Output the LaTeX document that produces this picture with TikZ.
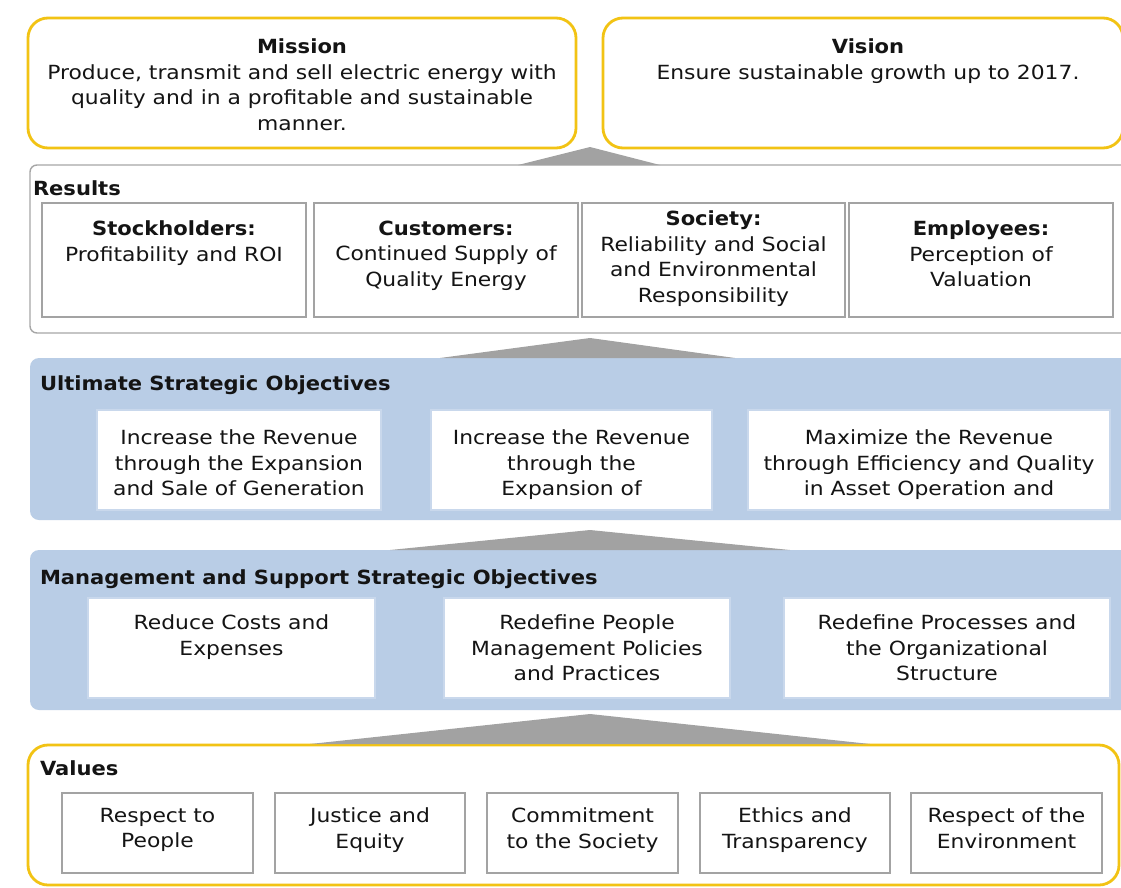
\documentclass[tikz,border=0pt]{standalone}
\usepackage{fontspec}
\setmainfont[FakeStretch=1.12, BoldFeatures={FakeStretch=1.08}]{DejaVu Sans}
\usetikzlibrary{positioning}

\definecolor{gold}{HTML}{F2C314}
\definecolor{bandblue}{HTML}{B9CDE6}
\definecolor{bandedge}{HTML}{C9D8EC}
\definecolor{framegray}{HTML}{A6A6A6}
\definecolor{boxgray}{HTML}{A3A3A3}
\definecolor{wedgegray}{HTML}{A2A2A2}
\definecolor{ink}{HTML}{141414}

\begin{document}
\begin{tikzpicture}[x=1pt,y=1pt,
  every node/.style={inner sep=0pt, outer sep=0pt},
  txt/.style={font=\fontsize{19.5}{25.5}\selectfont, align=center, text=ink},
  head/.style={font=\fontsize{19.5}{25.5}\selectfont\bfseries, text=ink, anchor=north west},
  goldbox/.style={draw=gold, line width=2.8pt, rounded corners=20pt, fill=white, anchor=north west},
  graybox/.style={draw=framegray, line width=1.4pt, rounded corners=7pt, fill=white, anchor=north west},
  band/.style={fill=bandblue, rounded corners=9pt, anchor=north west},
  cell/.style={draw=boxgray, line width=1.1pt, fill=white, anchor=north west},
  bandcell/.style={draw=bandedge, line width=1.2pt, fill=white, anchor=north west},
  wedge/.style={fill=wedgegray}
]
\useasboundingbox (0,0) rectangle (1121,-888);
\clip (0,0) rectangle (1121,-888);
\fill[white] (0,0) rectangle (1121,-888);

% ---- mission and vision ----
\node[goldbox, minimum width=548pt, minimum height=130pt] (mission) at (28,-18) {};
\node[goldbox, minimum width=520pt, minimum height=130pt] (vision) at (603,-18) {};

% ---- results ----
\node[graybox, minimum width=1110pt, minimum height=168pt] (results) at (30,-165) {};
\node[cell, minimum width=264pt, minimum height=114pt] (stock) at (42,-203) {};
\node[cell, minimum width=264pt, minimum height=114pt] (cust)  at (314,-203) {};
\node[cell, minimum width=263pt, minimum height=114pt] (soc)   at (582,-203) {};
\node[cell, minimum width=264pt, minimum height=114pt] (empl)  at (849,-203) {};

% ---- ultimate strategic objectives ----
\node[band, minimum width=1110pt, minimum height=162pt] (ultimate) at (30,-358) {};
\node[bandcell, minimum width=284pt, minimum height=100pt] (u1) at (97,-410) {};
\node[bandcell, minimum width=281pt, minimum height=100pt] (u2) at (431,-410) {};
\node[bandcell, minimum width=362pt, minimum height=100pt] (u3) at (748,-410) {};

% ---- management and support strategic objectives ----
\node[band, minimum width=1110pt, minimum height=160pt] (support) at (30,-550) {};
\node[bandcell, minimum width=287pt, minimum height=100pt] (m1) at (88,-598) {};
\node[bandcell, minimum width=286pt, minimum height=100pt] (m2) at (444,-598) {};
\node[bandcell, minimum width=326pt, minimum height=100pt] (m3) at (784,-598) {};

% ---- values ----
\node[goldbox, minimum width=1091pt, minimum height=140pt] (values) at (28,-745) {};
\node[cell, minimum width=191pt, minimum height=80pt] (v1) at (62,-793) {};
\node[cell, minimum width=190pt, minimum height=80pt] (v2) at (275,-793) {};
\node[cell, minimum width=191pt, minimum height=80pt] (v3) at (487,-793) {};
\node[cell, minimum width=190pt, minimum height=80pt] (v4) at (700,-793) {};
\node[cell, minimum width=191pt, minimum height=80pt] (v5) at (911,-793) {};

% ---- grey wedges pointing up between the layers ----
\fill[wedge] (590,-147) -- (660,-165) -- (518,-165) -- cycle;
\fill[wedge] (590,-338) -- (735,-358) -- (440,-358) -- cycle;
\fill[wedge] (590,-530) -- (790,-550) -- (390,-550) -- cycle;
\fill[wedge] (590,-714) -- (870,-744) -- (310,-744) -- cycle;

% ---- texts ----
\node[txt, below=21pt of mission.north] (tmission)
  {\textbf{Mission}\\Produce, transmit and sell electric energy with\\quality and in a profitable and sustainable\\manner.};
\node[txt, below=21pt of vision.north, xshift=5pt] (tvision)
  {\textbf{Vision}\\Ensure sustainable growth up to 2017.};

\node[head] (lresults) at (33,-181) {Results};
\node[txt, below=18pt of stock.north] (tstock) {\textbf{Stockholders:}\\Profitability and ROI};
\node[txt, below=18pt of cust.north] (tcust) {\textbf{Customers:}\\Continued Supply of\\Quality Energy};
\node[txt, below=8pt of soc.north] (tsoc) {\textbf{Society:}\\Reliability and Social\\and Environmental\\Responsibility};
\node[txt, below=18pt of empl.north] (templ) {\textbf{Employees:}\\Perception of\\Valuation};

\node[head] (lultimate) at (40,-376) {Ultimate Strategic Objectives};
\node[txt, below=20pt of u1.north] (tu1) {Increase the Revenue\\through the Expansion\\and Sale of Generation};
\node[txt, below=20pt of u2.north] (tu2) {Increase the Revenue\\through the\\Expansion of};
\node[txt, below=20pt of u3.north] (tu3) {Maximize the Revenue\\through Efficiency and Quality\\in Asset Operation and};

\node[head] (lsupport) at (40,-570) {Management and Support Strategic Objectives};
\node[txt, below=17pt of m1.north] (tm1) {Reduce Costs and\\Expenses};
\node[txt, below=17pt of m2.north] (tm2) {Redefine People\\Management Policies\\and Practices};
\node[txt, below=17pt of m3.north] (tm3) {Redefine Processes and\\the Organizational\\Structure};

\node[head] (lvalues) at (40,-761) {Values};
\node[txt, below=15pt of v1.north] (tv1) {Respect to\\People};
\node[txt, below=15pt of v2.north] (tv2) {Justice and\\Equity};
\node[txt, below=15pt of v3.north] (tv3) {Commitment\\to the Society};
\node[txt, below=15pt of v4.north] (tv4) {Ethics and\\Transparency};
\node[txt, below=15pt of v5.north] (tv5) {Respect of the\\Environment};
\end{tikzpicture}
\end{document}
